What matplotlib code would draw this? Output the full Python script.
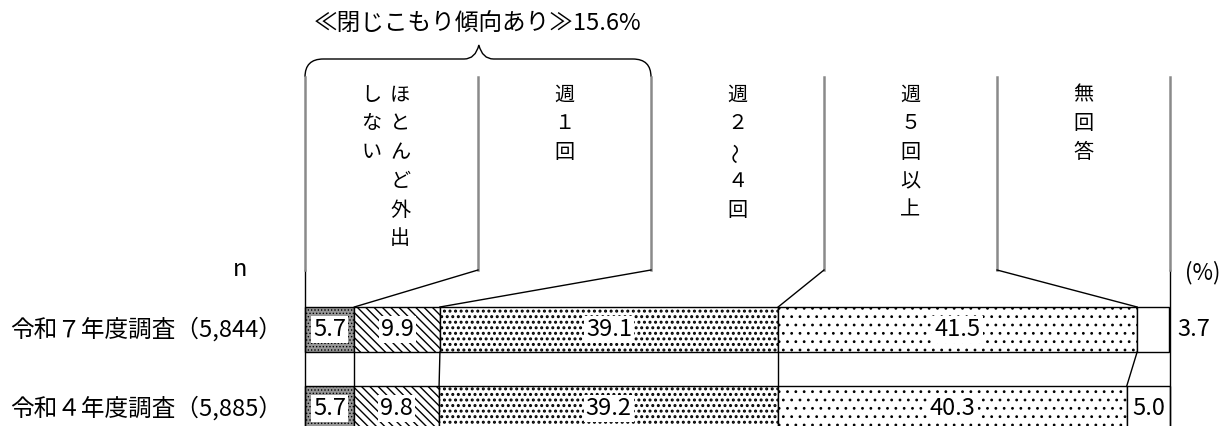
import numpy as np
import matplotlib.pyplot as plt
from matplotlib.path import Path
from matplotlib.patches import PathPatch

plt.rcParams['font.family'] = ['Noto Sans CJK JP', 'DejaVu Sans']

# Data
categories = ["ほとんど外出しない", "週１回", "週２～４回", "週５回以上", "無回答"]
surveys = ["令和７年度調査（5,844）", "令和４年度調査（5,885）"]
r7_values = [5.7, 9.9, 39.1, 41.5, 3.7]
r4_values = [5.7, 9.8, 39.2, 40.3, 5.0]
rows = [r7_values, r4_values]

# Styles for each category
facecolors = ["#989898", "white", "white", "white", "white"]
hatches = [".....", "\\\\\\\\", "...", "..", ""]
hatch_lw = [0.6, 1.0, 1.4, 0.8, 0.8]

fig = plt.figure(figsize=(12.31, 4.26), dpi=100)
# x in percent, y in pixels from the top
ax = fig.add_axes([305 / 1231, 0, 865 / 1231, 1])
ax.set_xlim(0, 100)
ax.set_ylim(426, 0)
ax.axis("off")

row_y = [329.5, 408.5]
bar_h = 45

#---------------------------------------------------------------------------------------------------------#
# Bars
cums = []
for y, vals in zip(row_y, rows):
    left = np.concatenate([[0], np.cumsum(vals)[:-1]])
    cums.append(np.cumsum(vals))
    for i, (v, l) in enumerate(zip(vals, left)):
        with plt.rc_context({"hatch.linewidth": hatch_lw[i]}):
            ax.barh(y, v, left=l, height=bar_h, color=facecolors[i], edgecolor="black",
                    hatch=hatches[i], linewidth=1, clip_on=False)
        if v < 4:
            ax.text(100 + 2.7, y, f"{v:.1f}", ha="center", va="center", fontsize=17)
        else:
            ax.text(l + v / 2, y, f"{v:.1f}", ha="center", va="center", fontsize=17,
                    bbox=dict(facecolor="white", edgecolor="none", pad=1.5))

# lines between the two rows
for j in range(4):
    ax.plot([cums[0][j], cums[1][j]], [row_y[0] + bar_h / 2, row_y[1] - bar_h / 2],
            color="black", lw=1, clip_on=False)
ax.plot([0, 0], [270, 426], color="black", lw=1, clip_on=False)
ax.plot([100, 100], [270, 426], color="black", lw=1, clip_on=False)

#---------------------------------------------------------------------------------------------------------#
# Label columns
for k in range(6):
    ax.plot([20 * k, 20 * k], [77, 270], color="#8a8a8a", lw=1.8, clip_on=False)
    if 1 <= k <= 4:
        ax.plot([20 * k, cums[0][k - 1]], [270, row_y[0] - bar_h / 2],
                color="black", lw=1, clip_on=False)

step = 28.8
for i, cat in enumerate(categories):
    cx = 20 * i + 10
    if len(cat) > 6:
        columns = [(cx + 1.0, cat[:6]), (cx - 2.3, cat[6:])]
    else:
        columns = [(cx, cat)]
    for x, text in columns:
        for n, ch in enumerate(text):
            ax.text(x, 95 + n * step, ch, ha="center", va="center", fontsize=14.5,
                    rotation=90 if ch == "～" else 0)

# Brace over the first two categories
verts = [(0, 77), (0, 59), (2.1, 59), (18.4, 59), (19.7, 59), (20.1, 45),
         (20.5, 59), (21.8, 59), (37.9, 59), (40, 59), (40, 77)]
codes = [Path.MOVETO, Path.CURVE3, Path.CURVE3, Path.LINETO, Path.CURVE3, Path.CURVE3,
         Path.CURVE3, Path.CURVE3, Path.LINETO, Path.CURVE3, Path.CURVE3]
ax.add_patch(PathPatch(Path(verts, codes), facecolor="none", edgecolor="black", lw=1, clip_on=False))

withdrawn = r7_values[0] + r7_values[1]
ax.text(20, 24, f"≪閉じこもり傾向あり≫{withdrawn:.1f}%", ha="center", va="center", fontsize=17)

#---------------------------------------------------------------------------------------------------------#
# Row labels
for y, s in zip(row_y, surveys):
    ax.text(-2.6, y, s, ha="right", va="center", fontsize=17)
ax.text(-7.5, 270, "n", ha="center", va="center", fontsize=17)
ax.text(103.8, 273, "(%)", ha="center", va="center", fontsize=16)

plt.savefig("out.png", dpi=100)
